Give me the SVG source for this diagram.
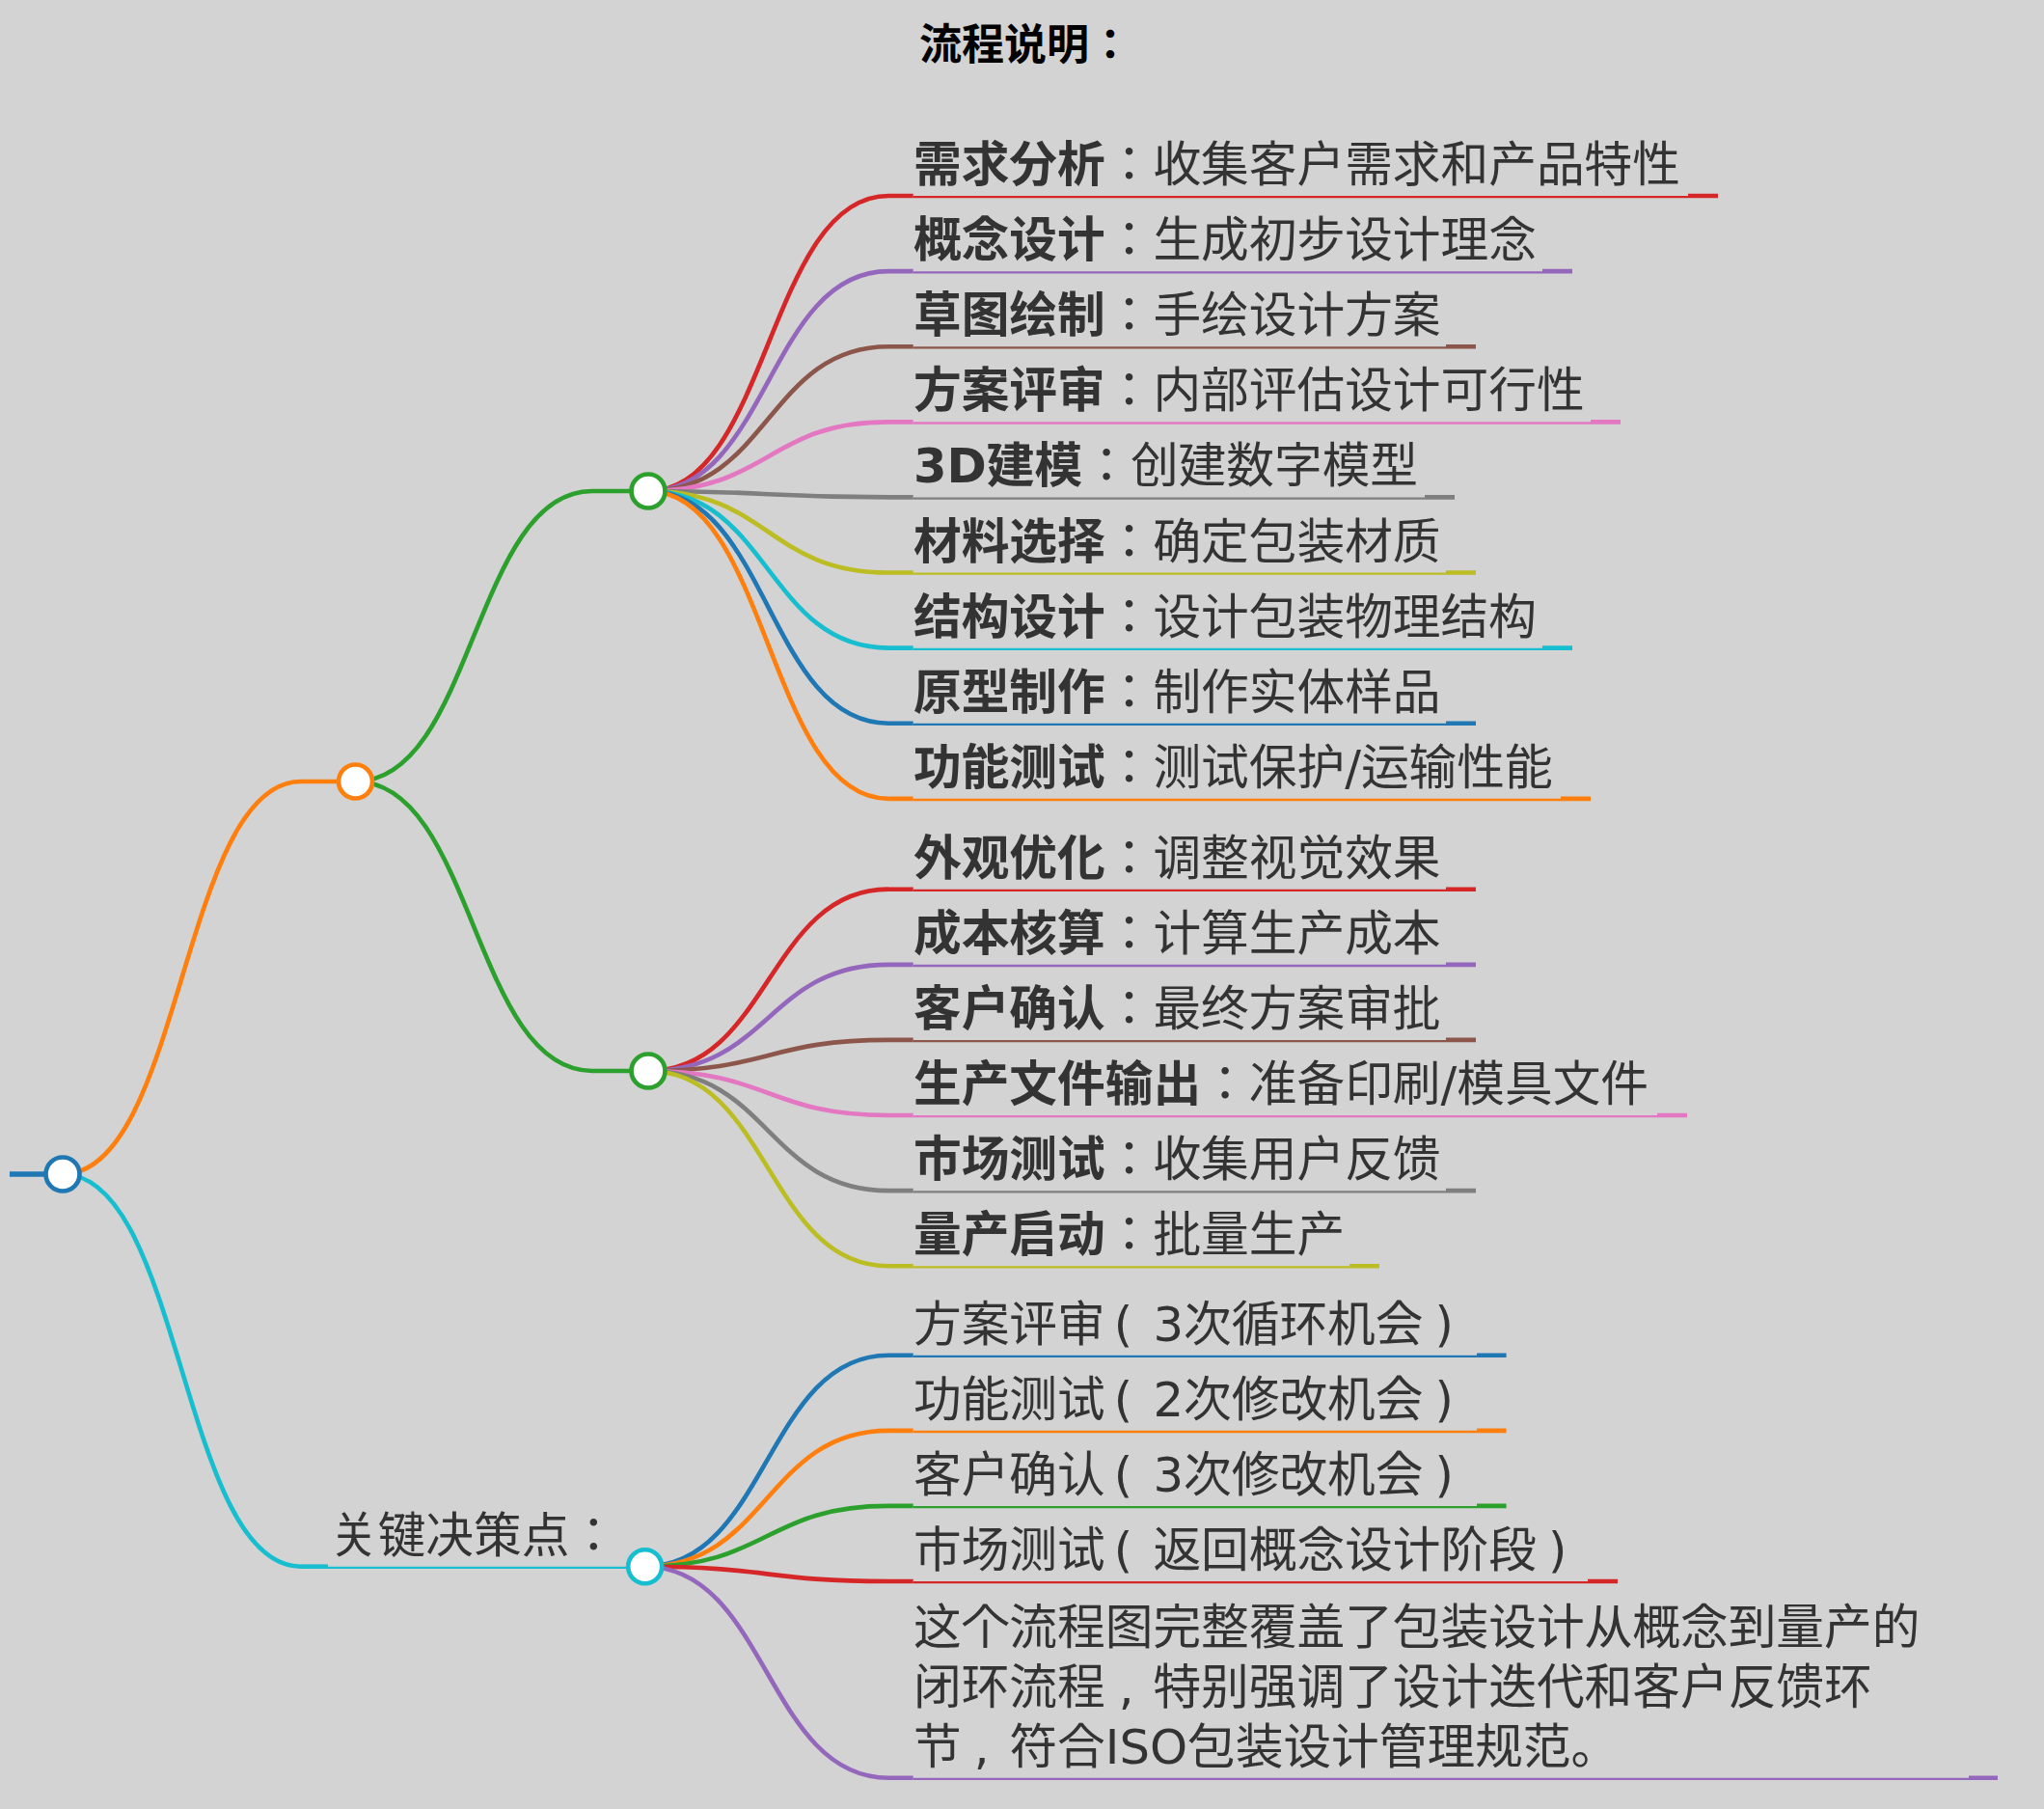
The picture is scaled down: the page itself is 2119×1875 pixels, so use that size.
<svg xmlns="http://www.w3.org/2000/svg" width="2119" height="1875" viewBox="0 0 2119 1875">
<style>
.bg{fill:#d3d3d3}
path{fill:none;stroke-linecap:butt}
.lk{stroke-width:4.65}
.ul{stroke-width:4.65}
.ut{stroke-width:2.3}
.t{font-family:"DejaVu Sans","Noto Sans CJK JP",sans-serif;font-size:49.7px;fill:#333}
.b{font-weight:700}
.ttl{font-family:"DejaVu Sans","Noto Sans CJK JP",sans-serif;font-size:44px;font-weight:700;fill:#000}
.dot{fill:#fff;stroke-width:4.65}
.red{stroke:#d62728}.purple{stroke:#9467bd}.brown{stroke:#8c564b}.pink{stroke:#e377c2}.gray{stroke:#7f7f7f}
.olive{stroke:#bcbd22}.cyan{stroke:#17becf}.blue{stroke:#1f77b4}.orange{stroke:#ff7f0e}.green{stroke:#2ca02c}
</style>
<rect class="bg" x="0" y="0" width="2119" height="1875"/>
<text id="title" class="ttl" x="953" y="62">流程说明：</text>

<g id="connectors">
<path class="lk orange" d="M65,1217 C188.5,1217 188.5,810 312,810"/>
<path class="lk cyan" d="M65,1217 C188.5,1217 188.5,1623.7 312,1623.7"/>
<path class="lk green" d="M368.5,810 C491,810 491,509 614,509"/>
<path class="lk green" d="M368.5,810 C491,810 491,1110 614,1110"/>
<path class="lk red" d="M672,509 C796.5,509 796.5,203 921,203"/>
<path class="lk purple" d="M672,509 C796.5,509 796.5,281.1 921,281.1"/>
<path class="lk brown" d="M672,509 C796.5,509 796.5,359.2 921,359.2"/>
<path class="lk pink" d="M672,509 C796.5,509 796.5,437.3 921,437.3"/>
<path class="lk gray" d="M672,509 C796.5,509 796.5,515.4 921,515.4"/>
<path class="lk olive" d="M672,509 C796.5,509 796.5,593.5 921,593.5"/>
<path class="lk cyan" d="M672,509 C796.5,509 796.5,671.6 921,671.6"/>
<path class="lk blue" d="M672,509 C796.5,509 796.5,749.7 921,749.7"/>
<path class="lk orange" d="M672,509 C796.5,509 796.5,827.8 921,827.8"/>
<path class="lk red" d="M672,1110 C796.5,1110 796.5,921.7 921,921.7"/>
<path class="lk purple" d="M672,1110 C796.5,1110 796.5,999.8 921,999.8"/>
<path class="lk brown" d="M672,1110 C796.5,1110 796.5,1077.9 921,1077.9"/>
<path class="lk pink" d="M672,1110 C796.5,1110 796.5,1156 921,1156"/>
<path class="lk gray" d="M672,1110 C796.5,1110 796.5,1234.1 921,1234.1"/>
<path class="lk olive" d="M672,1110 C796.5,1110 796.5,1312.2 921,1312.2"/>
<path class="lk blue" d="M668.7,1623.7 C794.9,1623.7 794.9,1404.7 921,1404.7"/>
<path class="lk orange" d="M668.7,1623.7 C794.9,1623.7 794.9,1482.8 921,1482.8"/>
<path class="lk green" d="M668.7,1623.7 C794.9,1623.7 794.9,1560.9 921,1560.9"/>
<path class="lk red" d="M668.7,1623.7 C794.9,1623.7 794.9,1639 921,1639"/>
<path class="lk purple" d="M668.7,1623.7 C794.9,1623.7 794.9,1842.7 921,1842.7"/>
</g>

<g id="n-root"><path class="ul blue" style="stroke-width:5.5" d="M10,1217H65"/><circle class="dot blue" cx="65" cy="1217" r="17.5"/></g>
<g id="n-l1"><path class="ul orange" d="M312,810H368.5"/><circle class="dot orange" cx="368.5" cy="810" r="17.5"/></g>
<g id="n-g1"><path class="ul green" d="M614,509H672"/><circle class="dot green" cx="672" cy="509" r="17.5"/></g>
<g id="n-g2"><path class="ul green" d="M614,1110H672"/><circle class="dot green" cx="672" cy="1110" r="17.5"/></g>
<g id="n-key">
<path class="ul cyan" d="M312,1623.7H340"/><path class="ut cyan" d="M340,1624.9H660"/>
<text class="t" x="342" y="1608.5">关键决策点：</text>
<circle class="dot cyan" cx="668.7" cy="1623.7" r="17.5"/></g>

<g id="n-a1"><path class="ul red" d="M921,203H946.7M1750,203H1781"/><path class="ut red" d="M946.7,204.2H1750"/><text class="t" x="947" y="188"><tspan class="b">需求分析</tspan>：收集客户需求和产品特性</text></g>
<g id="n-a2"><path class="ul purple" d="M921,281.1H946.7M1599,281.1H1630"/><path class="ut purple" d="M946.7,282.3H1599"/><text class="t" x="947" y="266.1"><tspan class="b">概念设计</tspan>：生成初步设计理念</text></g>
<g id="n-a3"><path class="ul brown" d="M921,359.2H946.7M1499,359.2H1530"/><path class="ut brown" d="M946.7,360.4H1499"/><text class="t" x="947" y="344.2"><tspan class="b">草图绘制</tspan>：手绘设计方案</text></g>
<g id="n-a4"><path class="ul pink" d="M921,437.3H946.7M1649,437.3H1680"/><path class="ut pink" d="M946.7,438.5H1649"/><text class="t" x="947" y="422.3"><tspan class="b">方案评审</tspan>：内部评估设计可行性</text></g>
<g id="n-a5"><path class="ul gray" d="M921,515.4H946.7M1477,515.4H1508"/><path class="ut gray" d="M946.7,516.6H1477"/><text class="t" x="947" y="500.4"><tspan class="b">3D建模</tspan>：创建数字模型</text></g>
<g id="n-a6"><path class="ul olive" d="M921,593.5H946.7M1499,593.5H1530"/><path class="ut olive" d="M946.7,594.7H1499"/><text class="t" x="947" y="578.5"><tspan class="b">材料选择</tspan>：确定包装材质</text></g>
<g id="n-a7"><path class="ul cyan" d="M921,671.6H946.7M1599,671.6H1630"/><path class="ut cyan" d="M946.7,672.8H1599"/><text class="t" x="947" y="656.6"><tspan class="b">结构设计</tspan>：设计包装物理结构</text></g>
<g id="n-a8"><path class="ul blue" d="M921,749.7H946.7M1499,749.7H1530"/><path class="ut blue" d="M946.7,750.9H1499"/><text class="t" x="947" y="734.7"><tspan class="b">原型制作</tspan>：制作实体样品</text></g>
<g id="n-a9"><path class="ul orange" d="M921,827.8H946.7M1618,827.8H1649"/><path class="ut orange" d="M946.7,829H1618"/><text class="t" x="947" y="812.8"><tspan class="b">功能测试</tspan>：测试保护/运输性能</text></g>

<g id="n-b1"><path class="ul red" d="M921,921.7H946.7M1499,921.7H1530"/><path class="ut red" d="M946.7,922.9H1499"/><text class="t" x="947" y="906.7"><tspan class="b">外观优化</tspan>：调整视觉效果</text></g>
<g id="n-b2"><path class="ul purple" d="M921,999.8H946.7M1499,999.8H1530"/><path class="ut purple" d="M946.7,1001H1499"/><text class="t" x="947" y="984.8"><tspan class="b">成本核算</tspan>：计算生产成本</text></g>
<g id="n-b3"><path class="ul brown" d="M921,1077.9H946.7M1499,1077.9H1530"/><path class="ut brown" d="M946.7,1079.1H1499"/><text class="t" x="947" y="1062.9"><tspan class="b">客户确认</tspan>：最终方案审批</text></g>
<g id="n-b4"><path class="ul pink" d="M921,1156H946.7M1718,1156H1749"/><path class="ut pink" d="M946.7,1157.2H1718"/><text class="t" x="947" y="1141"><tspan class="b">生产文件输出</tspan>：准备印刷/模具文件</text></g>
<g id="n-b5"><path class="ul gray" d="M921,1234.1H946.7M1499,1234.1H1530"/><path class="ut gray" d="M946.7,1235.3H1499"/><text class="t" x="947" y="1219.1"><tspan class="b">市场测试</tspan>：收集用户反馈</text></g>
<g id="n-b6"><path class="ul olive" d="M921,1312.2H946.7M1399,1312.2H1430"/><path class="ut olive" d="M946.7,1313.4H1399"/><text class="t" x="947" y="1297.2"><tspan class="b">量产启动</tspan>：批量生产</text></g>

<g id="n-c1"><path class="ul blue" d="M921,1404.7H946.7M1531,1404.7H1561.6"/><path class="ut blue" d="M946.7,1405.9H1531"/><text class="t" x="947" y="1389.7">方案评审<tspan dx="9">(</tspan><tspan dx="21.3">3次循环机会</tspan><tspan dx="12">)</tspan></text></g>
<g id="n-c2"><path class="ul orange" d="M921,1482.8H946.7M1531,1482.8H1561.6"/><path class="ut orange" d="M946.7,1484H1531"/><text class="t" x="947" y="1467.8">功能测试<tspan dx="9">(</tspan><tspan dx="21.3">2次修改机会</tspan><tspan dx="12">)</tspan></text></g>
<g id="n-c3"><path class="ul green" d="M921,1560.9H946.7M1531,1560.9H1561.6"/><path class="ut green" d="M946.7,1562.1H1531"/><text class="t" x="947" y="1545.9">客户确认<tspan dx="9">(</tspan><tspan dx="21.3">3次修改机会</tspan><tspan dx="12">)</tspan></text></g>
<g id="n-c4"><path class="ul red" d="M921,1639H946.7M1646,1639H1677"/><path class="ut red" d="M946.7,1640.2H1646"/><text class="t" x="947" y="1624">市场测试<tspan dx="9">(</tspan><tspan dx="21.3">返回概念设计阶段</tspan><tspan dx="12">)</tspan></text></g>
<g id="n-c5"><path class="ul purple" d="M921,1842.7H946.7M2041,1842.7H2071"/><path class="ut purple" d="M946.7,1843.9H2041"/>
<text class="t" x="947" y="1704">这个流程图完整覆盖了包装设计从概念到量产的</text>
<text class="t" x="947" y="1765.7">闭环流程<tspan dx="14">,</tspan><tspan dx="19.9">特别强调了设计迭代和客户反馈环</tspan></text>
<text class="t" x="947" y="1827.5">节<tspan dx="13">,</tspan><tspan dx="20.9">符合ISO包装设计管理规范。</tspan></text></g>
</svg>
